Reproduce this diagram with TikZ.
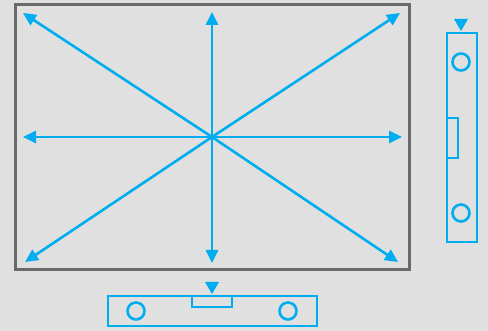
\documentclass[tikz,border=0pt]{standalone}
\usetikzlibrary{arrows.meta}
\definecolor{bgray}{HTML}{E0E0E0}
\definecolor{fgray}{HTML}{676B6C}
\definecolor{cyan}{HTML}{00AEEF}
\tikzset{
  arr/.style={cyan,line width=2.6pt,-{Triangle[length=13pt,width=12pt]}},
  lvl/.style={cyan,line width=2.6pt}
}
\begin{document}
\begin{tikzpicture}[x=1pt,y=-1pt]
\fill[bgray] (0,0) rectangle (488,331);
\useasboundingbox (0,0) rectangle (488,331);
% frame
\draw[fgray,line width=3pt] (15,5) rectangle (409,270);
% arrows from the centre
\coordinate (c) at (212,137);
\coordinate (n) at (212,12);
\coordinate (s) at (212,263);
\coordinate (w) at (23,137);
\coordinate (e) at (402,137);
\coordinate (nw) at (23,13);
\coordinate (ne) at (400,13);
\coordinate (sw) at (25,262);
\coordinate (se) at (398,262);
\foreach \t in {n,s,w,e,nw,ne,sw,se}
  \draw[arr] (c) -- (\t);
% right level
\draw[lvl] (447,33) rectangle (477,242);
\draw[lvl] (447,118) rectangle (458,158);
\draw[lvl] (461,62) circle [radius=8.5];
\draw[lvl] (461,213) circle [radius=8.5];
\fill[cyan] (454,19) -- (468,19) -- (461,31) -- cycle;
% bottom level
\draw[lvl] (108,296) rectangle (317,326);
\draw[lvl] (192,296) rectangle (232,307);
\draw[lvl] (136,311) circle [radius=8.5];
\draw[lvl] (288,311) circle [radius=8.5];
\fill[cyan] (205,282) -- (219,282) -- (212,294) -- cycle;
\end{tikzpicture}
\end{document}
